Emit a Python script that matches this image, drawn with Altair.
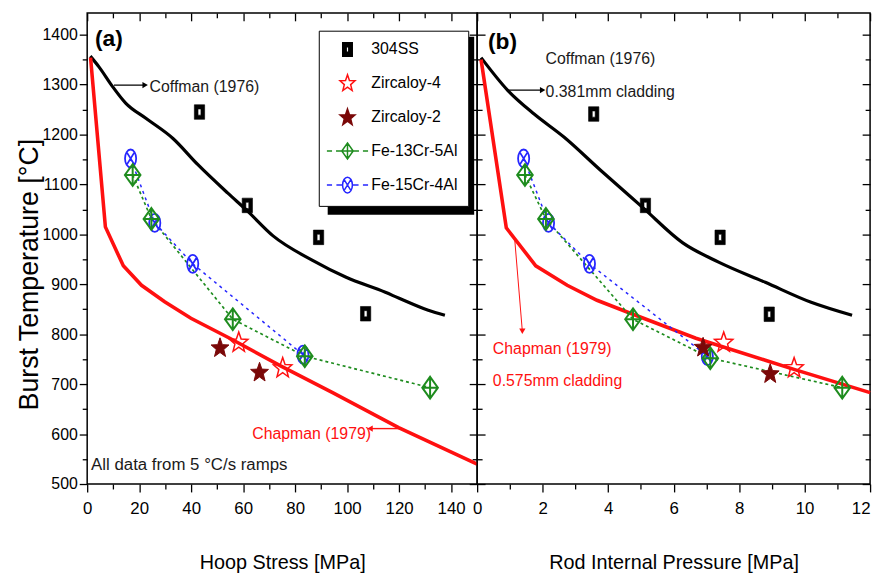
import math
import altair as alt
import pandas as pd

# ---------------- data ----------------
# panel (a): hoop stress [MPa]
coffman_a_x = [1.2, 4.6, 9.5, 14.8, 22.7, 33.0, 42.5, 54.0, 61.6, 71.5, 86.7, 99.6, 114.7, 120.0, 131.2, 137.6]
coffman_a_t = [1357, 1335, 1298, 1263, 1232, 1192, 1140, 1083, 1047, 997, 948, 914, 884, 872, 848, 838]
chapman_a_x = [1.3, 7.0, 13.9, 20.9, 29.8, 39.9, 55.2, 74.2, 94.4, 119.8, 150.0]
chapman_a_t = [1354, 1015, 937, 898, 865, 832, 791, 737, 683, 613, 540]
ss_a_x = [43.2, 61.6, 89.0, 107.1]
ss_a_t = [1245, 1058, 994, 841]
zr4_a_x = [58.3, 75.2]
zr4_a_t = [785, 734]
zr2_a_x = [51.1, 66.3]
zr2_a_t = [774, 725]
fe13_a_x = [17.5, 24.7, 56.0, 83.7, 131.9]
fe13_a_t = [1119, 1031, 830, 756, 693]
fe15_a_x = [16.7, 26.0, 40.6, 83.0]
fe15_a_t = [1152, 1023, 941, 759]

# panel (b): rod internal pressure [MPa]
coffman_b_x = [0.12, 0.94, 1.74, 2.65, 3.76, 5.07, 6.28, 7.39, 8.8, 10.2, 11.45]
coffman_b_t = [1354, 1288, 1241, 1195, 1129, 1053, 983, 944, 904, 864, 838]
chapman_b_x = [0.12, 0.89, 1.79, 2.75, 3.66, 4.56, 6.68, 8.8, 9.70, 12.0]
chapman_b_t = [1350, 1013, 937, 898, 868, 845, 792, 748, 729, 683]
ss_b_x = [3.56, 5.14, 7.42, 8.92]
ss_b_t = [1241, 1058, 994, 840]
zr4_b_x = [7.53, 9.68]
zr4_b_t = [785, 734]
zr2_b_x = [6.90, 8.95]
zr2_b_t = [775, 722]
fe13_b_x = [1.46, 2.10, 4.76, 7.12, 11.15]
fe13_b_t = [1119, 1031, 830, 752, 693]
fe15_b_x = [1.42, 2.18, 3.43, 7.03]
fe15_b_t = [1152, 1023, 941, 756]

# axis ticks
y_major = [500, 600, 700, 800, 900, 1000, 1100, 1200, 1300, 1400]
y_minor = [550, 650, 750, 850, 950, 1050, 1150, 1250, 1350]
xa_major = [0, 20, 40, 60, 80, 100, 120, 140]
xa_minor = [10, 30, 50, 70, 90, 110, 130]
xb_major = [0, 2, 4, 6, 8, 10, 12]
xb_minor = [1, 3, 5, 7, 9, 11]

# annotations
ann_a_text = ["Coffman (1976)", "All data from 5 °C/s ramps"]
ann_a_x = [24.0, 1.5]
ann_a_t = [1295, 538]
ann_a_size = [16, 17]
chap_a_text = ["Chapman (1979)"]
chap_a_x = [63.5]
chap_a_t = [601]
ann_b_text = ["Coffman (1976)", "0.381mm cladding"]
ann_b_x = [2.09, 2.09]
ann_b_t = [1352, 1285]
chap_b_text = ["Chapman (1979)", "0.575mm cladding"]
chap_b_x = [0.48, 0.48]
chap_b_t = [770, 706]
tag_a = ["(a)"]
tag_a_x = [3.0]
tag_a_t = [1392]
tag_b = ["(b)"]
tag_b_x = [0.33]
tag_b_t = [1386]
# arrows: start x, start t, end x, end t
arr_a_black = [10.3, 1299, 22.3, 1299]
arr_a_red = [121.0, 611, 108.8, 611]
arr_b_black = [0.94, 1289, 2.0, 1289]
arr_b_red = [1.15, 988, 1.38, 806]

legend_names = ["304SS", "Zircaloy-4", "Zircaloy-2", "Fe-13Cr-5Al", "Fe-15Cr-4Al"]

# ---------------- styles ----------------
FONT = "Liberation Sans, Arial, sans-serif"
RED = "#ff1010"
GREEN = "#1e8c1e"
BLUE = "#2626ff"
DARKRED = "#7a0808"


def star_path(r_out=1.0, r_in=0.42, sy=1.1, dy=0.1):
    pts = []
    for i in range(10):
        ang = math.radians(-90 + 36 * i)
        r = r_out if i % 2 == 0 else r_in
        pts.append((r * math.cos(ang), r * math.sin(ang) * sy + dy))
    return "M" + "L".join(f"{x:.3f},{y:.3f}" for x, y in pts) + "Z"


SQ = "M-0.6,-0.85L0.6,-0.85L0.6,0.85L-0.6,0.85ZM-0.17,-0.36L-0.17,0.36L0.17,0.36L0.17,-0.36Z"
STAR = star_path()
DIA = "M0,-1L0.72,0L0,1L-0.72,0ZM0,-1L0,1M-0.72,0L0.72,0"
ELL = "M0.62,0A0.62,1,0,1,1,-0.62,0A0.62,1,0,1,1,0.62,0ZM-0.44,-0.71L0.44,0.71M-0.44,0.71L0.44,-0.71"
DIA_LEG = DIA + "M-2.6,0L-1.95,0M-1.45,0L-0.72,0M0.72,0L1.45,0M1.95,0L2.6,0"
ELL_LEG = ELL + "M-2.6,0L-1.95,0M-1.4,0L-0.62,0M0.62,0L1.4,0M1.95,0L2.6,0"

KEYS = legend_names + ["Fe-13Cr-5Al pts", "Fe-15Cr-4Al pts"]
shape_scale = alt.Scale(domain=KEYS, range=[SQ, STAR, STAR, DIA_LEG, ELL_LEG, DIA, ELL])
stroke_scale = alt.Scale(domain=KEYS, range=["black", RED, DARKRED, GREEN, BLUE, GREEN, BLUE])
fill_scale = alt.Scale(domain=KEYS, range=["black", "transparent", DARKRED, "transparent",
                                           "transparent", "transparent", "transparent"])

ys = alt.Scale(domain=[500, 1443.6], nice=False, zero=False)


def df(xs, ts, key=None):
    d = pd.DataFrame({"x": xs, "t": ts})
    if key is not None:
        d["key"] = key
    return d


def panel(xdom, width, xmaj, xmin, xtitle, is_left, coff, chap, pts, texts, chap_texts, tag, arrows):
    xs = alt.Scale(domain=xdom, nice=False, zero=False)

    def X(axis=None):
        return alt.X("x:Q", scale=xs, axis=axis)

    def Y(axis=None):
        return alt.Y("t:Q", scale=ys, axis=axis)

    common = dict(domain=False, grid=False, tickColor="black", tickWidth=1.3)
    last = xmaj[-1]
    x_bot_major = alt.Axis(orient="bottom", values=xmaj, tickSize=8, labelFont=FONT, labelFontSize=17,
                           labelColor="black", labelPadding=9, labelFlush=False, labelOverlap=False,
                           format="d",
                           labelAlign={"condition": {"test": f"datum.value == {last} && {0 if is_left else 1}",
                                                     "value": "right"}, "value": "center"},
                           title=xtitle, titleFont=FONT, titleFontSize=20, titleFontWeight="normal",
                           titleColor="black", titlePadding=36, **common)
    x_bot_minor = alt.Axis(orient="bottom", values=xmin, tickSize=5, labels=False, title=None, **common)
    x_top_major = alt.Axis(orient="top", values=xmaj, tickSize=8, offset=-8, labels=False, title=None, **common)
    x_top_minor = alt.Axis(orient="top", values=xmin, tickSize=5, offset=-5, labels=False, title=None, **common)
    if is_left:
        y_left_major = alt.Axis(orient="left", values=y_major, tickSize=8, labelFont=FONT, labelFontSize=16,
                                labelColor="black", labelPadding=2, labelFlush=False, labelOverlap=False,
                                format="d",
                                title="Burst Temperature [°C]", titleFont=FONT, titleFontSize=27,
                                titleFontWeight="normal", titleColor="black", titleX=-50, titleY=264,
                                titleBaseline="alphabetic", titleAngle=270, **common)
        y_left_minor = alt.Axis(orient="left", values=y_minor, tickSize=5, labels=False, title=None, **common)
    else:
        y_left_major = alt.Axis(orient="left", values=y_major, tickSize=8, offset=-8, labels=False,
                                title=None, **common)
        y_left_minor = alt.Axis(orient="left", values=y_minor, tickSize=5, offset=-5, labels=False,
                                title=None, **common)
    y_right_major = alt.Axis(orient="right", values=y_major, tickSize=8, offset=-8, labels=False, title=None, **common)
    y_right_minor = alt.Axis(orient="right", values=y_minor, tickSize=5, offset=-5, labels=False, title=None, **common)

    layers = []
    if is_left:
        # legend drop shadow
        layers.append(alt.Chart(pd.DataFrame({"a": [0]})).mark_rect(color="black").encode(
            x=alt.value(243), x2=alt.value(391), y=alt.value(24), y2=alt.value(204)))

    layers.append(alt.Chart(coff).mark_line(color="black", strokeWidth=3.2, interpolate="monotone").encode(
        x=X(x_bot_major), y=Y(y_left_major)))
    layers.append(alt.Chart(chap).mark_line(color=RED, strokeWidth=3.6).encode(
        x=X(x_bot_minor), y=Y(y_left_minor)))
    layers.append(alt.Chart(pts).transform_filter(alt.datum.key == "Fe-13Cr-5Al pts").mark_line(
        color=GREEN, strokeWidth=1.7, strokeDash=[3, 3]).encode(x=X(x_top_major), y=Y(y_right_major)))
    layers.append(alt.Chart(pts).transform_filter(alt.datum.key == "Fe-15Cr-4Al pts").mark_line(
        color=BLUE, strokeWidth=1.5, strokeDash=[3, 4]).encode(x=X(x_top_minor), y=Y(y_right_minor)))

    leg = None
    if is_left:
        leg = alt.Legend(title=None, orient="none", legendX=234, legendY=18, values=legend_names,
                         strokeColor="black", fillColor="white", padding=10, symbolOffset=10,
                         rowPadding=12.5, labelFont=FONT, labelFontSize=16, labelColor="black",
                         labelOffset=15, symbolSize=256, symbolStrokeWidth=1.5, symbolOpacity=1)

    specs = [("Fe-15Cr-4Al pts", 330, 1.8), ("Fe-13Cr-5Al pts", 480, 2.0), ("304SS", 300, 0.6),
             ("Zircaloy-4", 380, 1.5), ("Zircaloy-2", 360, 1.0)]
    for i, (k, sz, sw) in enumerate(specs):
        lg = leg if i == 0 else None
        layers.append(alt.Chart(pts).transform_filter(alt.datum.key == k).mark_point(
            size=sz, strokeWidth=sw, opacity=1).encode(
            x=X(), y=Y(),
            shape=alt.Shape("key:N", scale=shape_scale, legend=lg),
            stroke=alt.Stroke("key:N", scale=stroke_scale, legend=lg),
            fill=alt.Fill("key:N", scale=fill_scale, legend=lg)))

    # arrows
    for (x0, t0, x1, t1), col, sw, head in arrows:
        a = pd.DataFrame({"x": [x0], "t": [t0], "x2": [x1], "t2": [t1]})
        layers.append(alt.Chart(a).mark_rule(color=col, strokeWidth=sw).encode(
            x=X(), y=Y(), x2="x2:Q", y2="t2:Q"))
        layers.append(alt.Chart(a).mark_point(shape=head, filled=True, color=col, size=40, opacity=1).encode(
            x=alt.X("x2:Q", scale=xs, axis=None), y=alt.Y("t2:Q", scale=ys, axis=None)))

    # texts
    layers.append(alt.Chart(texts).mark_text(align="left", baseline="middle", font=FONT, color="#1a1a1a").encode(
        x=X(), y=Y(), text="label:N", size=alt.Size("fs:Q", scale=None, legend=None)))
    layers.append(alt.Chart(chap_texts).mark_text(align="left", baseline="middle", font=FONT, fontSize=16,
                                                  color=RED).encode(x=X(), y=Y(), text="label:N"))
    layers.append(alt.Chart(tag).mark_text(align="left", baseline="middle", font=FONT, fontSize=23,
                                           fontWeight="bold", color="black").encode(x=X(), y=Y(), text="label:N"))

    return alt.layer(*layers).resolve_axis(x="independent", y="independent").properties(width=width, height=476)


def text_df(labels, xs, ts, sizes=None):
    d = pd.DataFrame({"x": xs, "t": ts, "label": labels})
    d["fs"] = sizes if sizes is not None else [16] * len(labels)
    return d


pts_a = pd.concat([df(ss_a_x, ss_a_t, "304SS"), df(zr4_a_x, zr4_a_t, "Zircaloy-4"),
                   df(zr2_a_x, zr2_a_t, "Zircaloy-2"), df(fe13_a_x, fe13_a_t, "Fe-13Cr-5Al pts"),
                   df(fe15_a_x, fe15_a_t, "Fe-15Cr-4Al pts")], ignore_index=True)
pts_b = pd.concat([df(ss_b_x, ss_b_t, "304SS"), df(zr4_b_x, zr4_b_t, "Zircaloy-4"),
                   df(zr2_b_x, zr2_b_t, "Zircaloy-2"), df(fe13_b_x, fe13_b_t, "Fe-13Cr-5Al pts"),
                   df(fe15_b_x, fe15_b_t, "Fe-15Cr-4Al pts")], ignore_index=True)

left = panel([0, 150], 394, xa_major, xa_minor, "Hoop Stress [MPa]", True,
             df(coffman_a_x, coffman_a_t), df(chapman_a_x, chapman_a_t), pts_a,
             text_df(ann_a_text, ann_a_x, ann_a_t, ann_a_size),
             text_df(chap_a_text, chap_a_x, chap_a_t), text_df(tag_a, tag_a_x, tag_a_t),
             [(arr_a_black, "black", 1.4, "triangle-right"), (arr_a_red, RED, 1.4, "triangle-left")])

right = panel([0, 12], 397, xb_major, xb_minor, "Rod Internal Pressure [MPa]", False,
              df(coffman_b_x, coffman_b_t), df(chapman_b_x, chapman_b_t), pts_b,
              text_df(ann_b_text, ann_b_x, ann_b_t),
              text_df(chap_b_text, chap_b_x, chap_b_t), text_df(tag_b, tag_b_x, tag_b_t),
              [(arr_b_black, "black", 1.4, "triangle-right"), (arr_b_red, RED, 1.0, "triangle-down")])

chart = alt.hconcat(left, right, spacing=0, bounds="flush").resolve_scale(
    shape="independent", stroke="independent", fill="independent", size="independent"
).properties(
    padding={"left": 7, "top": 0, "right": 0, "bottom": 0},
    background="white",
).configure_view(stroke="black", strokeWidth=1.5)

chart.save("out.html", embed_options={"renderer": "svg", "actions": False})
